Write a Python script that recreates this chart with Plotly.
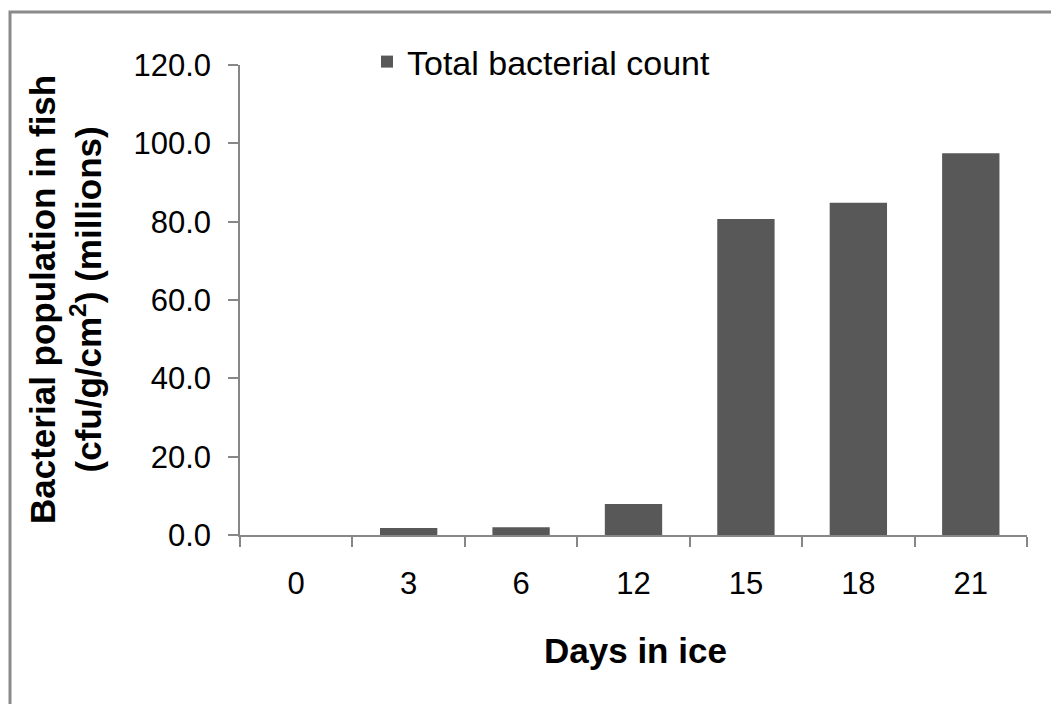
import plotly.graph_objects as go

days = ["0", "3", "6", "12", "15", "18", "21"]
total_count = [0.0, 1.8, 2.0, 7.9, 80.7, 84.8, 97.5]
y_ticks = [0, 20, 40, 60, 80, 100, 120]

OFF = 8  # browser default body margin
W, H = 1059 - OFF, 704 - OFF
L, T = 240 - OFF, 65 - OFF
pw, ph = 787, 470
R, B = W - L - pw, H - T - ph

def px_x(px):
    return (px - OFF - L) / pw

def px_y(py):
    return (T + ph - (py - OFF)) / ph

fig = go.Figure()
fig.add_trace(go.Bar(
    x=days, y=total_count, name="Total bacterial count",
    marker=dict(color="#585858", line=dict(width=0)),
))

axis_col = "#878787"
font_fam = "Liberation Sans, Arial, sans-serif"
fig.update_layout(
    width=W, height=H,
    margin=dict(l=L, r=R, t=T, b=B, autoexpand=False),
    paper_bgcolor="white", plot_bgcolor="white",
    font=dict(family=font_fam, color="black"),
    bargap=0.49,
    showlegend=True,
    legend=dict(x=px_x(367), y=px_y(62), xanchor="left", yanchor="middle",
                font=dict(size=34, color="black"), bgcolor="rgba(0,0,0,0)"),
    xaxis=dict(type="category", showline=True, linecolor=axis_col, linewidth=1.5,
               ticks="outside", tickson="boundaries", ticklen=10, tickcolor=axis_col,
               tickwidth=1.5, tickfont=dict(size=31), ticklabelstandoff=20,
               showgrid=False, zeroline=False),
    yaxis=dict(range=[0, 120], tickvals=y_ticks, tickformat=".1f",
               showline=True, linecolor=axis_col, linewidth=1.5,
               ticks="outside", ticklen=10, tickcolor=axis_col, tickwidth=1.5,
               tickfont=dict(size=31), ticklabelstandoff=11,
               showgrid=False, zeroline=False),
    shapes=[dict(type="rect", xref="paper", yref="paper",
                 x0=px_x(10), x1=px_x(1120), y0=px_y(780), y1=px_y(12),
                 line=dict(color="#8a8a8a", width=3), fillcolor="rgba(0,0,0,0)",
                 layer="below")],
    annotations=[
        dict(text="<b>Bacterial population in fish</b><br><b>(cfu/g/cm<sup>2</sup>) (millions)</b>",
             xref="paper", yref="paper", x=px_x(65), y=px_y(300),
             xanchor="center", yanchor="middle", textangle=-90, showarrow=False,
             font=dict(size=35, color="black", family=font_fam)),
        dict(text="<b>Days in ice</b>", xref="paper", yref="paper",
             x=px_x(635), y=px_y(650), xanchor="center", yanchor="middle",
             showarrow=False, font=dict(size=35, color="black", family=font_fam)),
    ],
)

fig.write_html("out.html")
